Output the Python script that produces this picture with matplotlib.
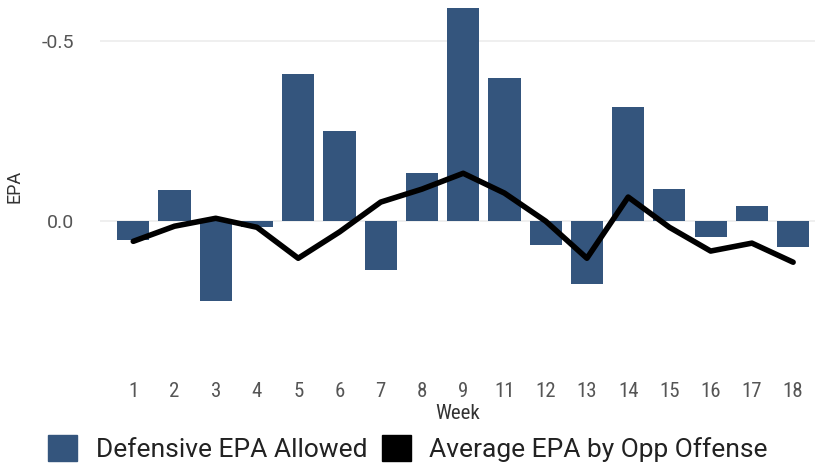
import matplotlib.pyplot as plt
from matplotlib.patches import Patch

weeks = ['1', '2', '3', '4', '5', '6', '7', '8', '9', '11', '12', '13', '14', '15', '16', '17', '18']
def_epa = [0.053, -0.086, 0.222, 0.017, -0.408, -0.25, 0.136, -0.133, -0.592, -0.397,
           0.067, 0.175, -0.317, -0.089, 0.044, -0.042, 0.072]
opp_epa = [0.056, 0.014, -0.008, 0.017, 0.103, 0.03, -0.053, -0.089, -0.133, -0.078,
           0.0, 0.103, -0.067, 0.017, 0.083, 0.061, 0.114]

bar_color = '#34557d'
cond = ['Roboto Condensed', 'Roboto', 'DejaVu Sans']
reg = ['Roboto', 'DejaVu Sans']

fig = plt.figure(figsize=(8.15, 4.67), dpi=100)
ax = fig.add_axes([0.123, 0.218, 0.877, 0.771])

x = range(len(weeks))
ax.bar(x, def_epa, width=0.78, color=bar_color, zorder=2)
ax.plot(x, opp_epa, color='black', linewidth=4, zorder=3, solid_capstyle='round')

ax.set_xlim(-0.8, 16.53)
ax.set_ylim(0.4, -0.6)  # перевернутая ось
ax.set_yticks([-0.5, 0.0])
ax.set_yticklabels(['-0.5', '0.0'])
ax.set_xticks(list(x))
ax.set_xticklabels(weeks)
for s in ax.spines.values():
    s.set_visible(False)
ax.yaxis.grid(True, color='#ececec', linewidth=1.2, zorder=0)
ax.tick_params(axis='both', length=0, labelcolor='#555555')
ax.tick_params(axis='y', pad=19, labelsize=14)
ax.tick_params(axis='x', pad=12, labelsize=15)
for lab in ax.get_xticklabels():
    lab.set_family(cond)
for lab in ax.get_yticklabels():
    lab.set_family(reg)

ax.set_xlabel('Week', fontsize=15, color='#333333', family=cond, labelpad=2)
fig.text(0.018, 0.6, 'EPA', rotation=90, fontsize=13, color='#333333', va='center', ha='center', family=reg)

handles = [Patch(color=bar_color), Patch(color='black')]
fig.legend(handles, ['Defensive EPA Allowed', 'Average EPA by Opp Offense'],
           loc='upper left', bbox_to_anchor=(0.059, 0.068), ncol=2, frameon=False,
           handlelength=1.1, handleheight=1.1, handletextpad=0.7, columnspacing=0.55,
           borderaxespad=0, borderpad=0, prop={'family': reg, 'size': 19}, labelcolor='#222222')

fig.savefig('out.png', dpi=100)
